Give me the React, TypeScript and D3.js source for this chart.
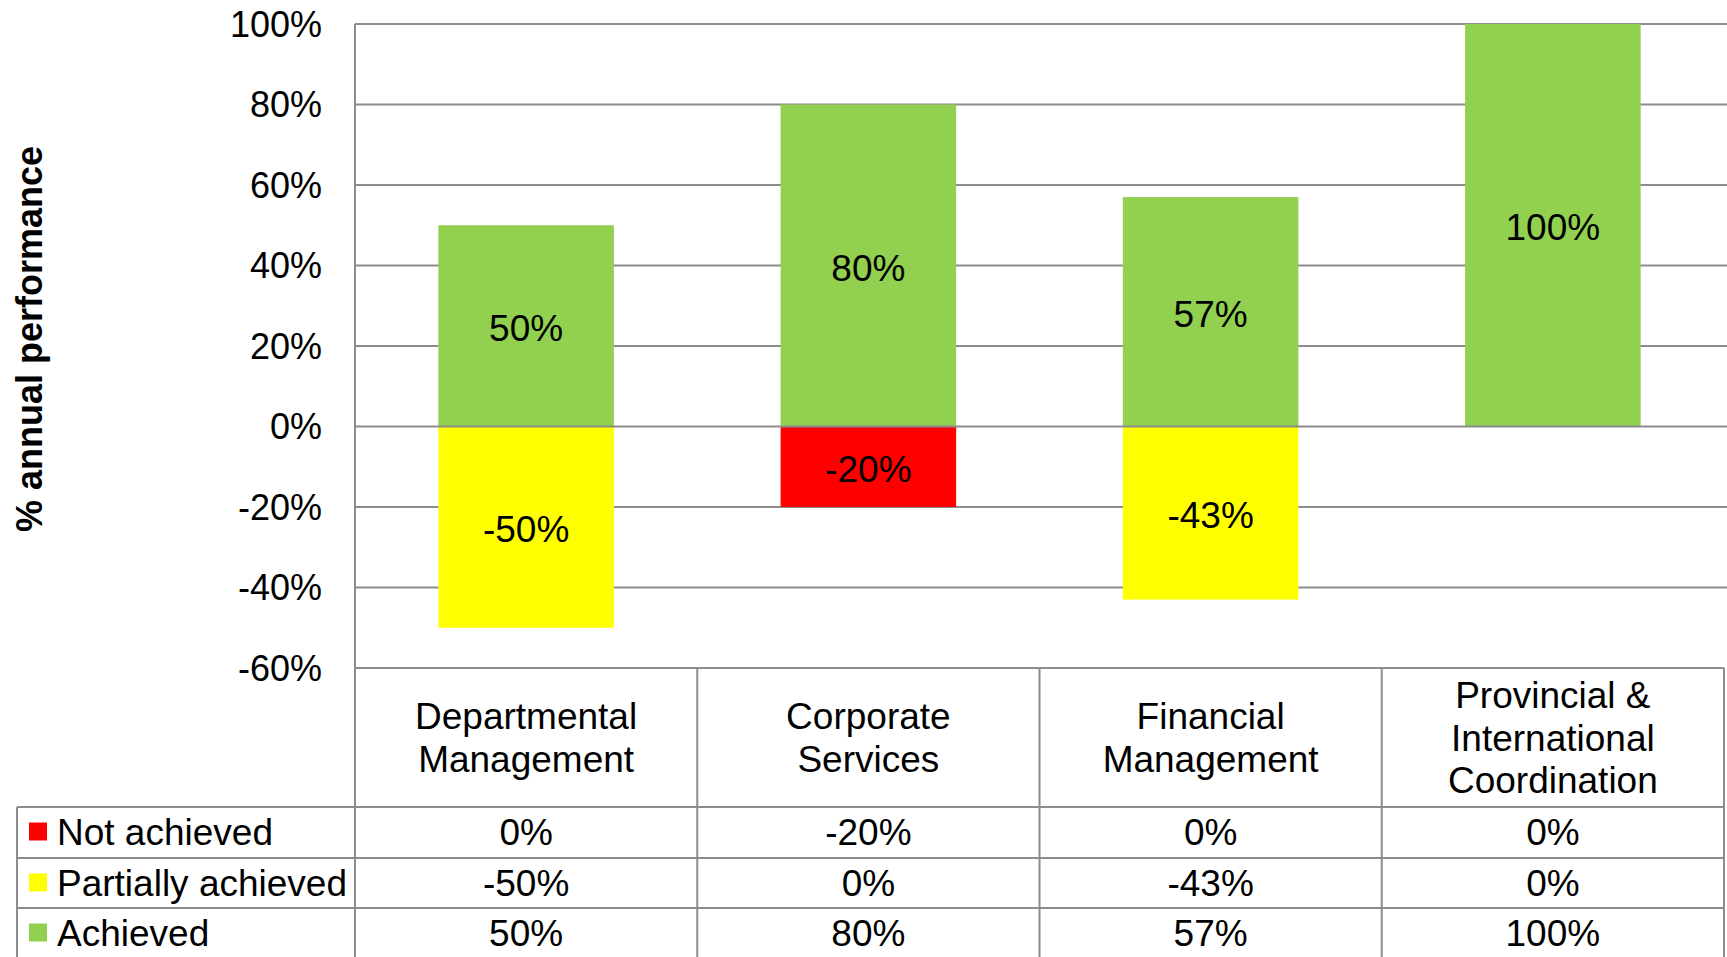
import React from 'react';
import * as d3 from 'd3';

// Data
const categories = [
  ['Departmental', 'Management'],
  ['Corporate', 'Services'],
  ['Financial', 'Management'],
  ['Provincial &', 'International', 'Coordination'],
];
const seriesNames = ['Not achieved', 'Partially achieved', 'Achieved'];
const seriesColors = ['#FF0000', '#FFFF00', '#92D050'];
const notAchieved = [0, -20, 0, 0];
const partiallyAchieved = [-50, 0, -43, 0];
const achieved = [50, 80, 57, 100];
const yTicks = [100, 80, 60, 40, 20, 0, -20, -40, -60];

const seriesValues = [notAchieved, partiallyAchieved, achieved];

const width = 1727;
const height = 957;
const font = '"Liberation Sans", Arial, sans-serif';
const fs = 37;
const tickFs = 36;
const grid = '#8c8c8c';

const App = () => {
  // Plot frame
  const left = 355;
  const right = 1724;
  const top = 24;
  const bottom = 668;

  const y = d3.scaleLinear().domain([-60, 100]).range([bottom, top]);
  const x = d3
    .scaleBand<number>()
    .domain(d3.range(categories.length))
    .range([left, right])
    .paddingInner(0.487)
    .paddingOuter(0.2435);
  const step = (right - left) / categories.length;
  const colX = (i: number) => left + i * step;
  const base = fs * 0.358 + 1;

  // Table rows
  const rowTops = [807, 858, 908];
  const rowH = 51;
  const tableLeft = 17;
  const tableBottom = 960;

  const bars: { i: number; s: number; v: number }[] = [];
  seriesValues.forEach((vals, s) => {
    vals.forEach((v, i) => {
      if (v !== 0) bars.push({ i, s, v });
    });
  });

  return (
    <svg
      width={width}
      height={height}
      style={{ position: 'absolute', left: 0, top: 0, background: '#fff' }}
      fontFamily={font}
    >
      {/* gridlines */}
      {yTicks.map((t) => (
        <g key={t}>
          {t !== 0 && t !== -60 && (
            <line x1={left} x2={width} y1={y(t)} y2={y(t)} stroke={grid} strokeWidth={2} />
          )}
          <text x={322} y={y(t) + 12.5} textAnchor="end" fontSize={tickFs} fill="#000">
            {t}%
          </text>
        </g>
      ))}

      {/* bars */}
      {bars.map((b) => {
        const y0 = y(Math.max(0, b.v));
        const y1 = y(Math.min(0, b.v));
        return (
          <g key={`${b.s}-${b.i}`}>
            <rect x={x(b.i)} y={y0} width={x.bandwidth()} height={y1 - y0} fill={seriesColors[b.s]} />
            <text
              x={(x(b.i) as number) + x.bandwidth() / 2}
              y={(y0 + y1) / 2 + base + 1}
              textAnchor="middle"
              fontSize={fs}
              fill="#000"
            >
              {b.v}%
            </text>
          </g>
        );
      })}

      {/* zero line over bars */}
      <line x1={left} x2={width} y1={y(0)} y2={y(0)} stroke={grid} strokeWidth={2} />

      {/* y axis line */}
      <line x1={left} x2={left} y1={top} y2={tableBottom} stroke={grid} strokeWidth={2} />

      {/* y axis title */}
      <text
        transform={`translate(${42},${339}) rotate(-90)`}
        textAnchor="middle"
        fontSize={tickFs}
        fontWeight="bold"
        fill="#000"
      >
        % annual performance
      </text>

      {/* data table lines */}
      <line x1={left} x2={right} y1={bottom} y2={bottom} stroke={grid} strokeWidth={2} />
      {rowTops.map((r) => (
        <line key={r} x1={tableLeft} x2={right} y1={r} y2={r} stroke={grid} strokeWidth={2} />
      ))}
      <line x1={tableLeft} x2={tableLeft} y1={rowTops[0]} y2={tableBottom} stroke={grid} strokeWidth={2} />
      {d3.range(1, categories.length + 1).map((i) => (
        <line key={i} x1={colX(i)} x2={colX(i)} y1={bottom} y2={tableBottom} stroke={grid} strokeWidth={2} />
      ))}

      {/* category headers */}
      {categories.map((lines, i) => {
        const cx = colX(i) + step / 2;
        const cy = (bottom + rowTops[0]) / 2;
        const lh = 42.6;
        const start = cy - ((lines.length - 1) * lh) / 2;
        return (
          <text key={i} textAnchor="middle" fontSize={fs} fill="#000">
            {lines.map((l, k) => (
              <tspan key={k} x={cx} y={start + k * lh + base - 1}>
                {l}
              </tspan>
            ))}
          </text>
        );
      })}

      {/* legend + values rows (top row is Not achieved) */}
      {seriesNames.map((name, s) => {
        const cy = rowTops[s] + rowH / 2 - 2;
        return (
          <g key={name}>
            <rect x={29} y={cy - 8} width={18} height={18} fill={seriesColors[s]} />
            <text x={57} y={cy + base} fontSize={fs} fill="#000">
              {name}
            </text>
            {seriesValues[s].map((v, i) => (
              <text key={i} x={colX(i) + step / 2} y={cy + base} textAnchor="middle" fontSize={fs} fill="#000">
                {v}%
              </text>
            ))}
          </g>
        );
      })}
    </svg>
  );
};

export default App;
